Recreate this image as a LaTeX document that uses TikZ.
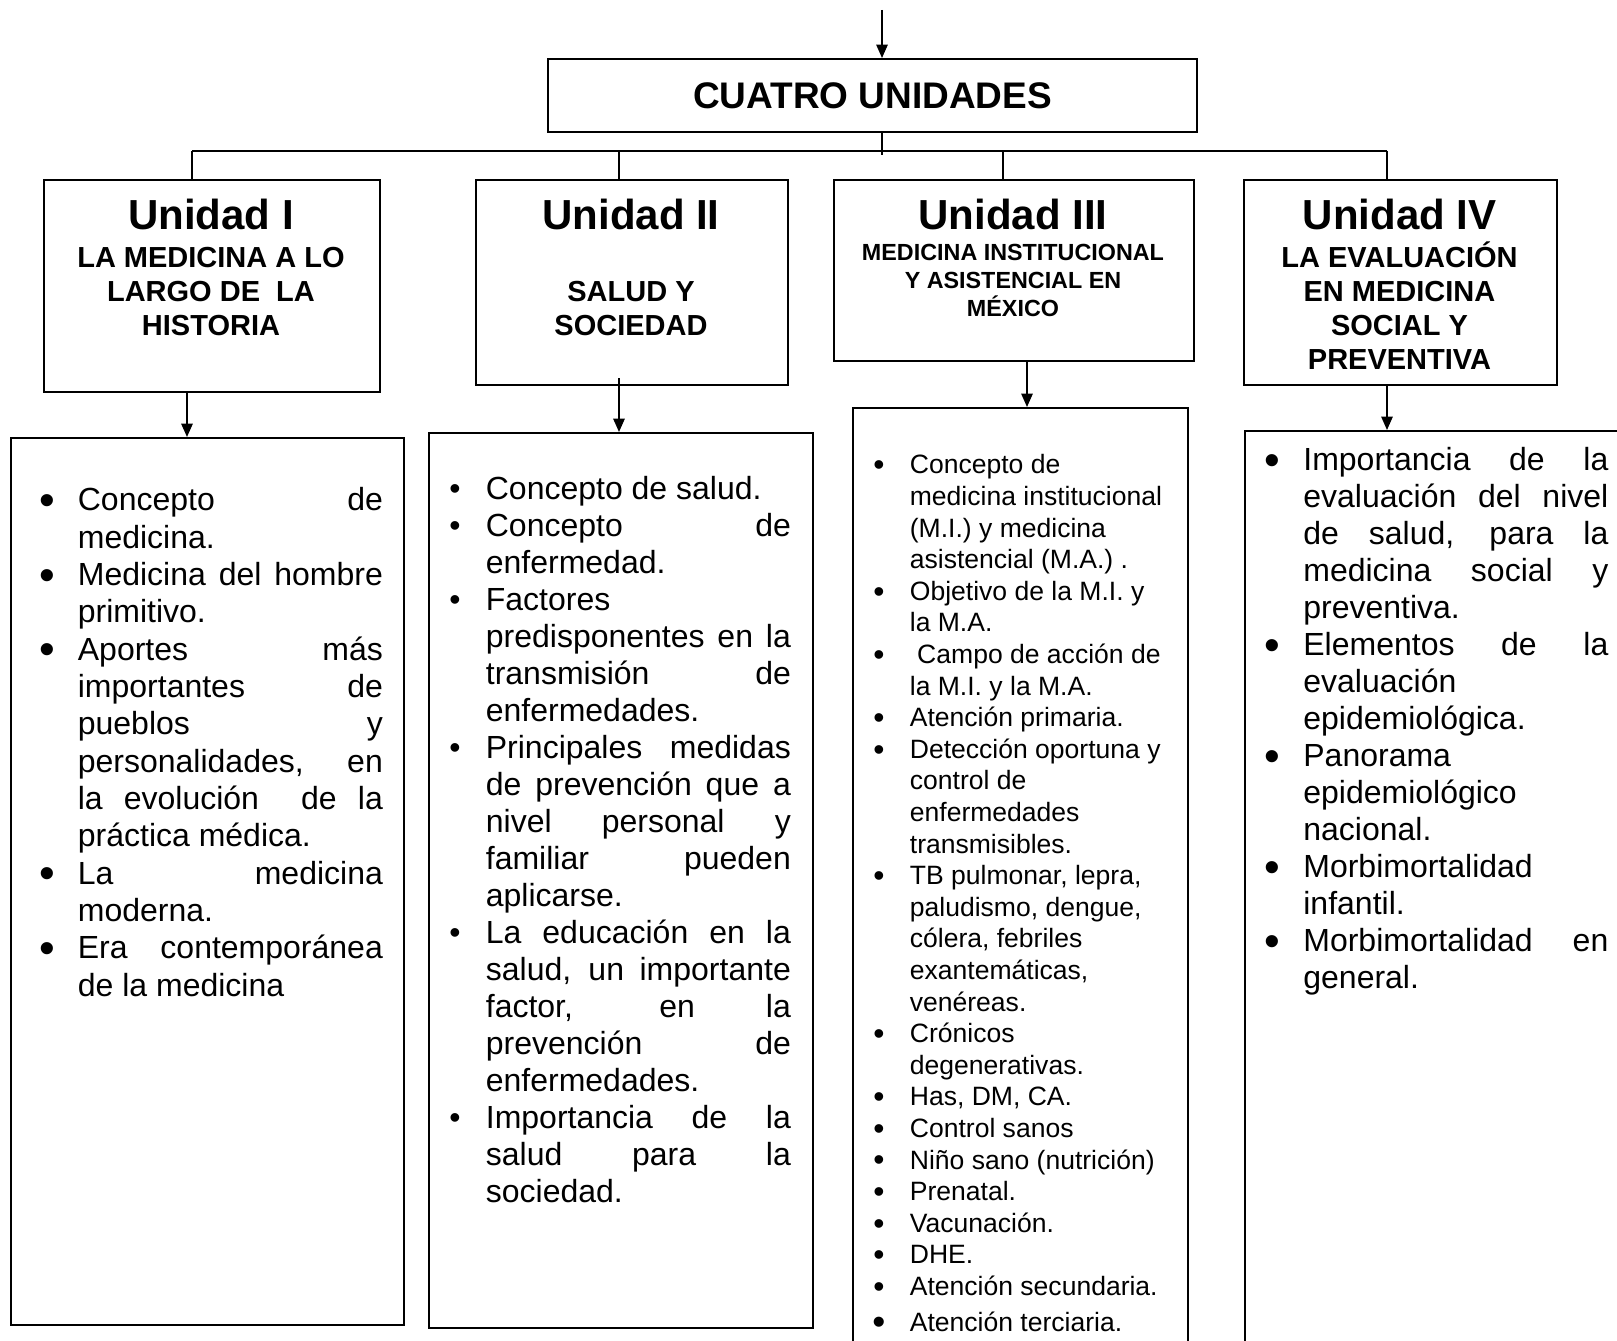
\documentclass[tikz,border=0pt]{standalone}
\usepackage{fontspec}
\setmainfont{Liberation Sans}
\usepackage{enumitem}
\usetikzlibrary{arrows.meta}

\newcommand{\bala}[2]{\makebox[0pt]{\raisebox{#2}{\scalebox{#1}{\textbullet}}}}
\setlist[itemize]{nosep, leftmargin=23.25pt, labelsep=23.25pt, labelwidth=0pt, itemindent=0pt, label=\bala{1}{0pt}}
\hyphenpenalty=10000 \exhyphenpenalty=10000
\pretolerance=-1 \tolerance=10000 \hbadness=10000
\newcommand{\firstline}{\rule{0pt}{1em}}

\tikzset{box/.style 2 args={draw, line width=1.6pt, inner sep=0pt, anchor=north west, minimum width=#1*0.75pt, minimum height=#2*0.75pt}}

\begin{document}
\begin{tikzpicture}[x=0.75pt, y=-0.75pt, >={Triangle[length=10pt,width=8.5pt]}, line width=1.3pt,
    unidad/.style={font=\bfseries\fontsize{31.5pt}{36pt}\selectfont, anchor=base, inner sep=0pt},
    tema/.style={font=\bfseries\fontsize{21.75pt}{25.5pt}\selectfont, align=center, anchor=north, inner sep=0pt},
    lista/.style={font=\fontsize{24pt}{27.75pt}\selectfont, anchor=north west, inner sep=0pt}]

    \useasboundingbox (0,0) rectangle (1617,1341);
    \clip (0,0) rectangle (1617,1341);

    \node[box={649}{73}, font=\bfseries\fontsize{27.75pt}{32pt}\selectfont] (main) at (547,58) {CUATRO UNIDADES};

    \node[box={336}{212}] (u1) at (43,179) {};
    \node[box={312}{205}] (u2) at (475,179) {};
    \node[box={360}{181}] (u3) at (833,179) {};
    \node[box={313}{205}] (u4) at (1243,179) {};

    \node[box={393}{887}] (c1) at (10,437) {};
    \node[box={384}{895}] (c2) at (428,432) {};
    \node[box={335}{970}] (c3) at (852,407) {};
    \node[box={420}{950}] (c4) at (1244,430) {};

    \node[unidad] (u1h) at (211,229.5) {Unidad I};
    \node[unidad] (u2h) at (631,229.5) {Unidad II};
    \node[unidad] (u3h) at (1013,229.5) {Unidad III};
    \node[unidad] (u4h) at (1399.5,229.5) {Unidad IV};

    \node[tema] (u1s) at (211,237.4) {\firstline LA MEDICINA A LO\\LARGO DE\ \ LA\\HISTORIA};
    \node[tema] (u2s) at (631,271.4) {\firstline SALUD Y\\SOCIEDAD};
    \node[tema, font=\bfseries\fontsize{17.5pt}{20.8pt}\selectfont] (u3s) at (1013,236.7) {\firstline MEDICINA INSTITUCIONAL\\Y ASISTENCIAL EN\\MÉXICO};
    \node[tema] (u4s) at (1399.5,237.4) {\firstline LA EVALUACIÓN\\EN MEDICINA\\SOCIAL Y\\PREVENTIVA};

    \node[lista, font=\fontsize{24pt}{28pt}\selectfont] (c1t) at (46,478) {\begin{minipage}{252pt}
        \begin{itemize}[label=\bala{1.4}{-0.14em}]
            \item \firstline Concepto de\linebreak medicina.
            \item Medicina del hombre\linebreak primitivo.
            \item Aportes más\linebreak importantes de\linebreak pueblos y\linebreak personalidades, en\linebreak la evolución\ \ de la\linebreak práctica médica.
            \item La medicina\linebreak moderna.
            \item Era contemporánea\linebreak de la medicina
        \end{itemize}\end{minipage}};

    \node[lista] (c2t) at (454,467) {\begin{minipage}{252pt}
        \begin{itemize}
            \item \firstline Concepto de salud.
            \item Concepto de\linebreak enfermedad.
            \item Factores\linebreak predisponentes en la\linebreak transmisión de\linebreak enfermedades.
            \item Principales medidas\linebreak de prevención que a\linebreak nivel personal y\linebreak familiar pueden\linebreak aplicarse.
            \item La educación en la\linebreak salud, un importante\linebreak factor, en la\linebreak prevención de\linebreak enfermedades.
            \item Importancia de la\linebreak salud para la\linebreak sociedad.
        \end{itemize}\end{minipage}};

    \node[lista, font=\fontsize{19.9pt}{23.7pt}\selectfont] (c3t) at (878,446.5) {\begin{minipage}{230pt}\raggedright
        \begin{itemize}[label=\bala{1.2}{-0.07em}]
            \item \firstline Concepto de\\medicina institucional\\(M.I.) y medicina\\asistencial (M.A.) .
            \item Objetivo de la M.I. y\\la M.A.
            \item \ Campo de acción de\\la M.I. y la M.A.
            \item Atención primaria.
            \item Detección oportuna y\\control de\\enfermedades\\transmisibles.
            \item TB pulmonar, lepra,\\paludismo, dengue,\\cólera, febriles\\exantemáticas,\\venéreas.
            \item Crónicos\\degenerativas.
            \item Has, DM, CA.
            \item Control sanos
            \item Niño sano (nutrición)
            \item Prenatal.
            \item Vacunación.
            \item DHE.
            \item Atención secundaria.
            \vspace{3pt}
            \item[\bala{1.4}{-0.14em}] Atención terciaria.
        \end{itemize}\end{minipage}};

    \node[lista] (c4t) at (1271.5,438) {\begin{minipage}{252pt}
        \begin{itemize}[label=\bala{1.4}{-0.14em}]
            \item \firstline Importancia de la\linebreak evaluación del nivel\linebreak de salud, para la\linebreak medicina social y\linebreak preventiva.
            \item Elementos de la\linebreak evaluación\linebreak epidemiológica.
            \item Panorama\linebreak epidemiológico\linebreak nacional.
            \item Morbimortalidad\linebreak infantil.
            \item Morbimortalidad en\linebreak general.
        \end{itemize}\end{minipage}};

    \coordinate (top) at (882,10);
    \coordinate (hub) at (882,155);
    \coordinate (h1) at (192,151);
    \coordinate (h2) at (619,151);
    \coordinate (h3) at (1003,151);
    \coordinate (h4) at (1387,151);
    \coordinate (a1) at (187,0);
    \coordinate (a2) at (619,0);
    \coordinate (a3) at (1027,0);
    \coordinate (a4) at (1387,0);

    \draw[->] (top) -- (top |- main.north);
    \draw (top |- main.south) -- (hub);
    \draw (h1) -- (h4);
    \foreach \i in {1,...,4}
        \draw (h\i) -- (h\i |- u\i.north);

    \draw[->] (u1.south -| a1) -- (c1.north -| a1);
    \draw[->] (u2.south -| a2) ++(0,-8) -- (c2.north -| a2);
    \draw[->] (u3.south -| a3) -- (c3.north -| a3);
    \draw[->] (u4.south -| a4) -- (c4.north -| a4);
\end{tikzpicture}
\end{document}
